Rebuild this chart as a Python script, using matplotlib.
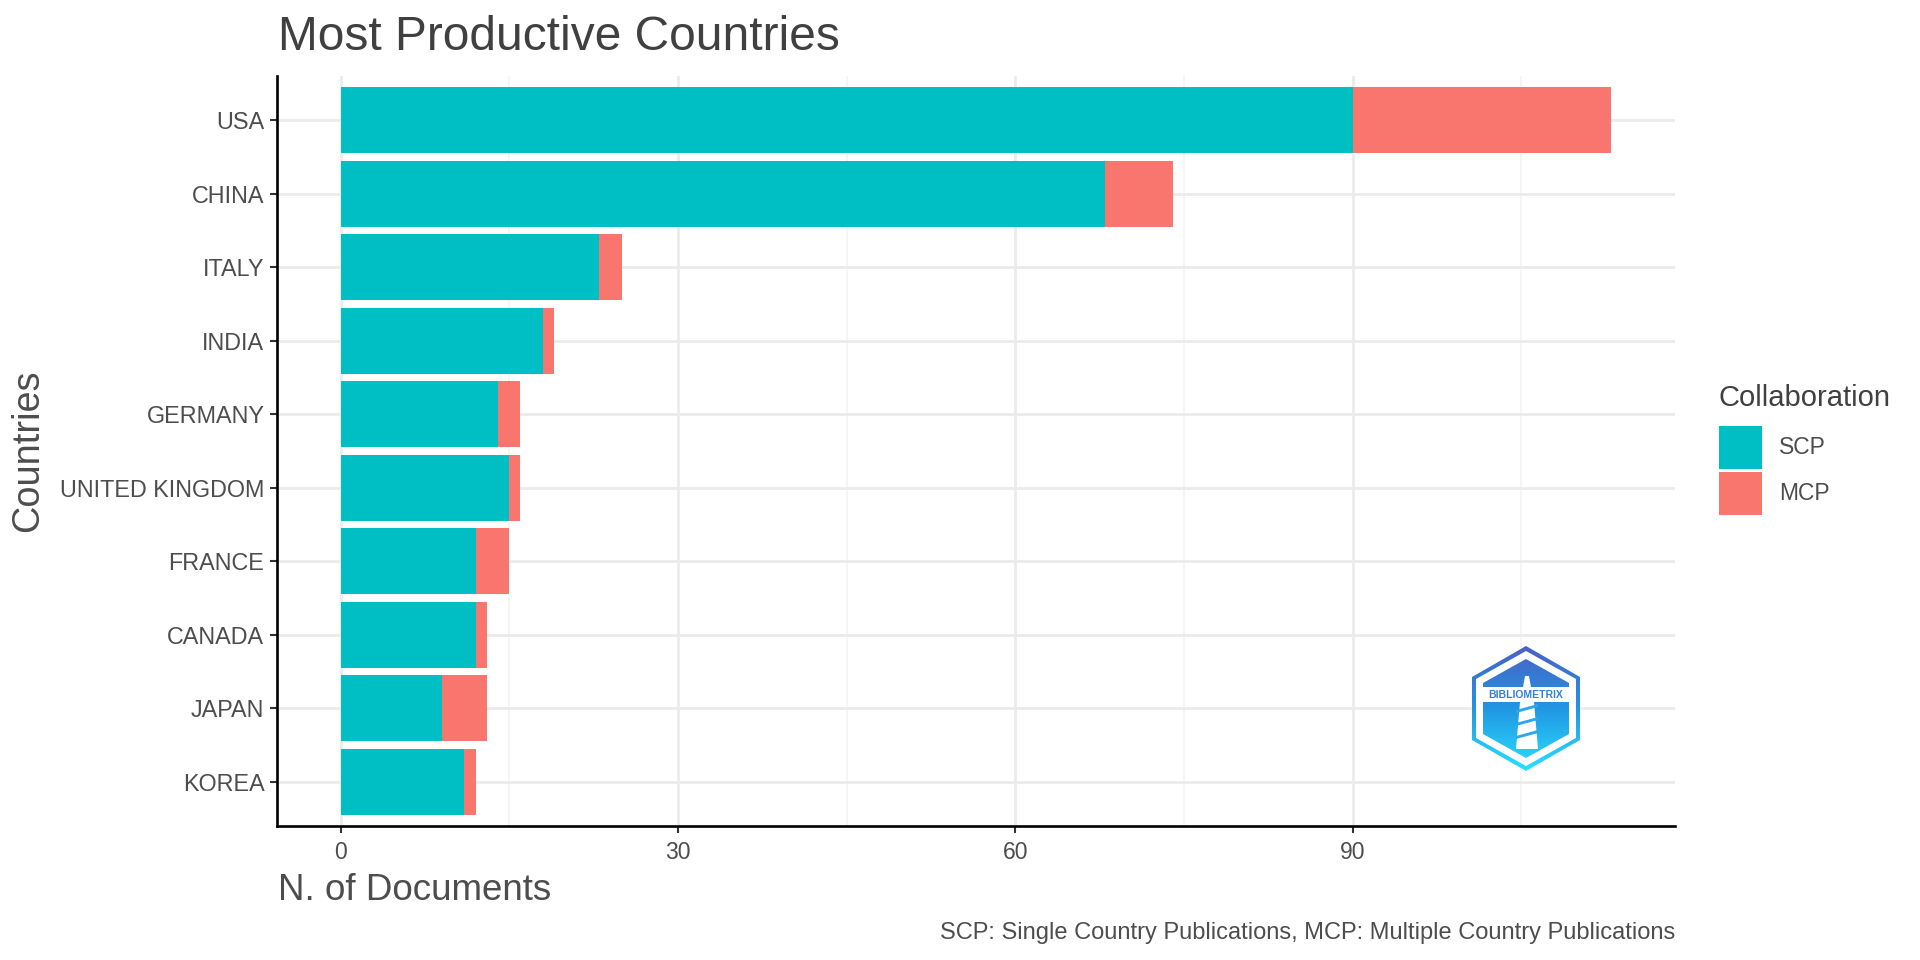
import numpy as np
import matplotlib
matplotlib.use("Agg")
import matplotlib.pyplot as plt
from matplotlib.patches import Patch, Polygon
from matplotlib.ticker import MultipleLocator

countries = ["USA", "CHINA", "ITALY", "INDIA", "GERMANY", "UNITED KINGDOM",
             "FRANCE", "CANADA", "JAPAN", "KOREA"]
scp = [90, 68, 23, 18, 14, 15, 12, 12, 9, 11]
mcp = [23, 6, 2, 1, 2, 1, 3, 1, 4, 1]
x_ticks = [0, 30, 60, 90]

teal = "#00BFC4"
salmon = "#F8766D"
txt = "#4D4D4D"

plt.rcParams["font.family"] = ["Liberation Sans", "DejaVu Sans"]

fig = plt.figure(figsize=(19.2, 9.6), dpi=100)
ax = fig.add_axes([277/1920, 1-826/960, (1675-277)/1920, (826-76)/960])

ypos = np.arange(len(countries))[::-1]
ax.barh(ypos, scp, height=0.9, color=teal, label="SCP", zorder=3)
ax.barh(ypos, mcp, left=scp, height=0.9, color=salmon, label="MCP", zorder=3)

total_max = max(s + m for s, m in zip(scp, mcp))
pad = total_max * 0.05
ax.set_xlim(-pad, total_max + pad)
ax.set_ylim(-0.6, len(countries) - 0.4)

ax.set_yticks(ypos)
ax.set_yticklabels(countries)
ax.set_xticks(x_ticks)
ax.xaxis.set_minor_locator(MultipleLocator(15))

ax.grid(True, which="major", axis="both", color="#EBEBEB", linewidth=2.0, zorder=0)
ax.grid(True, which="minor", axis="x", color="#F2F2F2", linewidth=1.1, zorder=0)
ax.tick_params(axis="x", which="minor", length=0)
ax.tick_params(axis="both", which="major", length=5, width=1.5, color="#333333",
               labelcolor=txt, pad=4)
ax.tick_params(axis="y", labelsize=16.8)
ax.tick_params(axis="x", labelsize=16.5, pad=6)

for side in ["top", "right"]:
    ax.spines[side].set_visible(False)
for side in ["left", "bottom"]:
    ax.spines[side].set_linewidth(1.9)
    ax.spines[side].set_color("black")

fig.text(278/1920, 1-37/960, "Most Productive Countries", fontsize=34.5,
         color="#404040", ha="left", va="center")
fig.text(278/1920, 1-891/960, "N. of Documents", fontsize=26.5,
         color=txt, ha="left", va="center")
fig.text(28/1920, 1-451/960, "Countries", fontsize=27.3, color=txt,
         rotation=90, ha="center", va="center")
fig.text(1675/1920, 1-933/960,
         "SCP: Single Country Publications, MCP: Multiple Country Publications",
         fontsize=17, color=txt, ha="right", va="center")

handles = [Patch(facecolor=teal, label="SCP"), Patch(facecolor=salmon, label="MCP")]
leg = ax.legend(handles=handles, title="Collaboration", loc="upper left",
                bbox_to_anchor=(1719/1920, 1-384/960), bbox_transform=fig.transFigure,
                frameon=False, fontsize=16.5, title_fontsize=21,
                handlelength=1.88, handleheight=2.51, handletextpad=0.75,
                labelspacing=0.13, borderpad=0, borderaxespad=0)
leg._legend_box.align = "left"
leg._legend_box.sep = 10
leg.get_title().set_color("#404040")
for t in leg.get_texts():
    t.set_color(txt)

# bibliometrix badge
lax = fig.add_axes([1472/1920, 1-771/960, 108/1920, 125/960])
lax.set_xlim(0, 108)
lax.set_ylim(0, 125)
lax.axis("off")
outer = [(54, 125), (108, 94), (108, 31), (54, 0), (0, 31), (0, 94)]
ring = [(54, 120), (104, 92), (104, 33), (54, 5), (4, 33), (4, 92)]
inner = [(54, 112), (97, 88), (97, 37), (54, 13), (11, 37), (11, 88)]
grad = np.linspace(0, 1, 200).reshape(-1, 1)
cmap = matplotlib.colors.LinearSegmentedColormap.from_list(
    "b", ["#4B5FC4", "#2196E3", "#2BE0FF"])

op = Polygon(outer, closed=True, facecolor="none", edgecolor="none")
lax.add_patch(op)
im = lax.imshow(grad, extent=[0, 108, 0, 125], origin="upper", cmap=cmap,
                aspect="auto", zorder=1)
im.set_clip_path(op)
lax.add_patch(Polygon(ring, closed=True, facecolor="white", edgecolor="none", zorder=2))
ip = Polygon(inner, closed=True, facecolor="none", edgecolor="none")
lax.add_patch(ip)
im2 = lax.imshow(grad, extent=[0, 108, 0, 125], origin="upper", cmap=cmap,
                 aspect="auto", zorder=3)
im2.set_clip_path(ip)
lax.add_patch(Polygon([(11, 69), (97, 69), (97, 84), (11, 84)], closed=True,
                      facecolor="white", edgecolor="none", zorder=4))
lax.text(54, 76.5, "BIBLIOMETRIX", fontsize=7.5, fontweight="bold", color="#2F80D8",
         ha="center", va="center", zorder=6)
lax.add_patch(Polygon([(48, 69), (62, 69), (66, 22), (44, 22)], closed=True,
                      facecolor="white", edgecolor="none", zorder=5))
lax.add_patch(Polygon([(51, 84), (59, 84), (57, 95), (53, 95)], closed=True,
                      facecolor="white", edgecolor="none", zorder=5))
for y0 in [58, 45, 32]:
    lax.add_patch(Polygon([(44, y0), (66, y0 + 6), (66, y0 + 9), (44, y0 + 3)],
                          closed=True, facecolor="#29A8EC", edgecolor="none", zorder=6))

fig.savefig("out.png", dpi=100)
